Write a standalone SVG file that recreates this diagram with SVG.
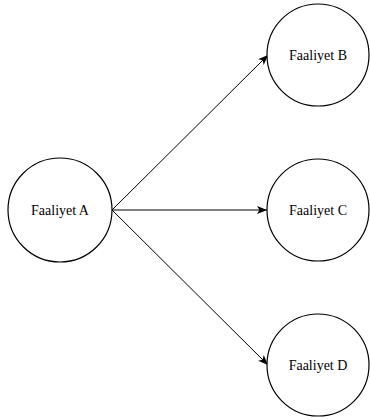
<svg xmlns="http://www.w3.org/2000/svg" width="370" height="420" viewBox="0 0 370 420">
  <style>
    .node circle { fill: #ffffff; stroke: #000000; stroke-width: 1.2; }
    .node text { font-family: "Liberation Serif", "Times New Roman", serif; font-size: 14px; fill: #000000; text-anchor: middle; }
    .edge { stroke: #000000; stroke-width: 1; fill: none; marker-end: url(#arrow); }
  </style>
  <defs>
    <marker id="arrow" viewBox="0 0 10 8" refX="10" refY="4" markerWidth="10" markerHeight="8" markerUnits="userSpaceOnUse" orient="auto">
      <path d="M0,0 L10,4 L0,8 L2.5,4 Z" fill="#000000"/>
    </marker>
  </defs>
  <rect width="370" height="420" fill="#ffffff"/>

  <g id="connectors">
    <line class="edge" x1="112" y1="210" x2="268" y2="55"/>
    <line class="edge" x1="112" y1="210" x2="267" y2="210"/>
    <line class="edge" x1="112" y1="210" x2="268" y2="365"/>
  </g>

  <g id="node-a" class="node">
    <circle cx="60" cy="210" r="52"/>
    <text x="60" y="215">Faaliyet A</text>
  </g>
  <g id="node-b" class="node">
    <circle cx="318" cy="55" r="51"/>
    <text x="318" y="60">Faaliyet B</text>
  </g>
  <g id="node-c" class="node">
    <circle cx="318" cy="210" r="51"/>
    <text x="318" y="215">Faaliyet C</text>
  </g>
  <g id="node-d" class="node">
    <circle cx="318" cy="365" r="51"/>
    <text x="318" y="370">Faaliyet D</text>
  </g>
</svg>
